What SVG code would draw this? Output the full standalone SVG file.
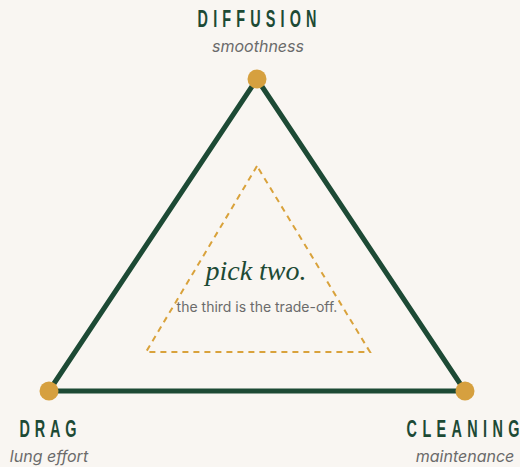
<svg xmlns="http://www.w3.org/2000/svg" width="520" height="467" viewBox="0 0 520 467">
<style>
.title{font-family:"Liberation Sans",Arial,sans-serif;font-weight:bold;font-size:24px;fill:#1d4a35;text-anchor:middle}
.sub{font-family:Inter,"Liberation Sans",sans-serif;font-style:italic;font-size:16px;fill:#6b6b6b;text-anchor:middle}
.dot{fill:#d6a03f}
</style>
<rect width="520" height="467" fill="#f9f6f2"/>
<g id="connectors">
<polygon points="257,79 49,391 465,391" fill="none" stroke="#1d4a35" stroke-width="5" stroke-linejoin="round"/>
<polygon points="257,166 146,352 370,352" fill="none" stroke="#d9a23b" stroke-width="2" stroke-dasharray="6,5"/>
</g>
<g id="diffusion">
<circle class="dot" cx="257" cy="79" r="9.5"/>
<text class="title" transform="translate(257,27) scale(0.6,1)" x="0" y="0" textLength="198" lengthAdjust="spacing">DIFFUSION</text>
<text class="sub" x="258" y="52">smoothness</text>
</g>
<g id="drag">
<circle class="dot" cx="49" cy="391" r="9.5"/>
<text class="title" transform="translate(48,437) scale(0.6,1)" x="0" y="0" textLength="95" lengthAdjust="spacing">DRAG</text>
<text class="sub" x="49" y="462">lung effort</text>
</g>
<g id="cleaning">
<circle class="dot" cx="465" cy="391" r="9.5"/>
<text class="title" transform="translate(463,437) scale(0.6,1)" x="0" y="0" textLength="188" lengthAdjust="spacing">CLEANING</text>
<text class="sub" x="465" y="462">maintenance</text>
</g>
<g id="center">
<text x="256" y="280" text-anchor="middle" font-family="'Liberation Serif','DejaVu Serif',serif" font-style="italic" font-size="28" fill="#1d4a35">pick two.</text>
<text x="257" y="312" text-anchor="middle" font-family="Inter,'Liberation Sans',sans-serif" font-size="14" fill="#6b6b6b">the third is the trade-off.</text>
</g>
</svg>
